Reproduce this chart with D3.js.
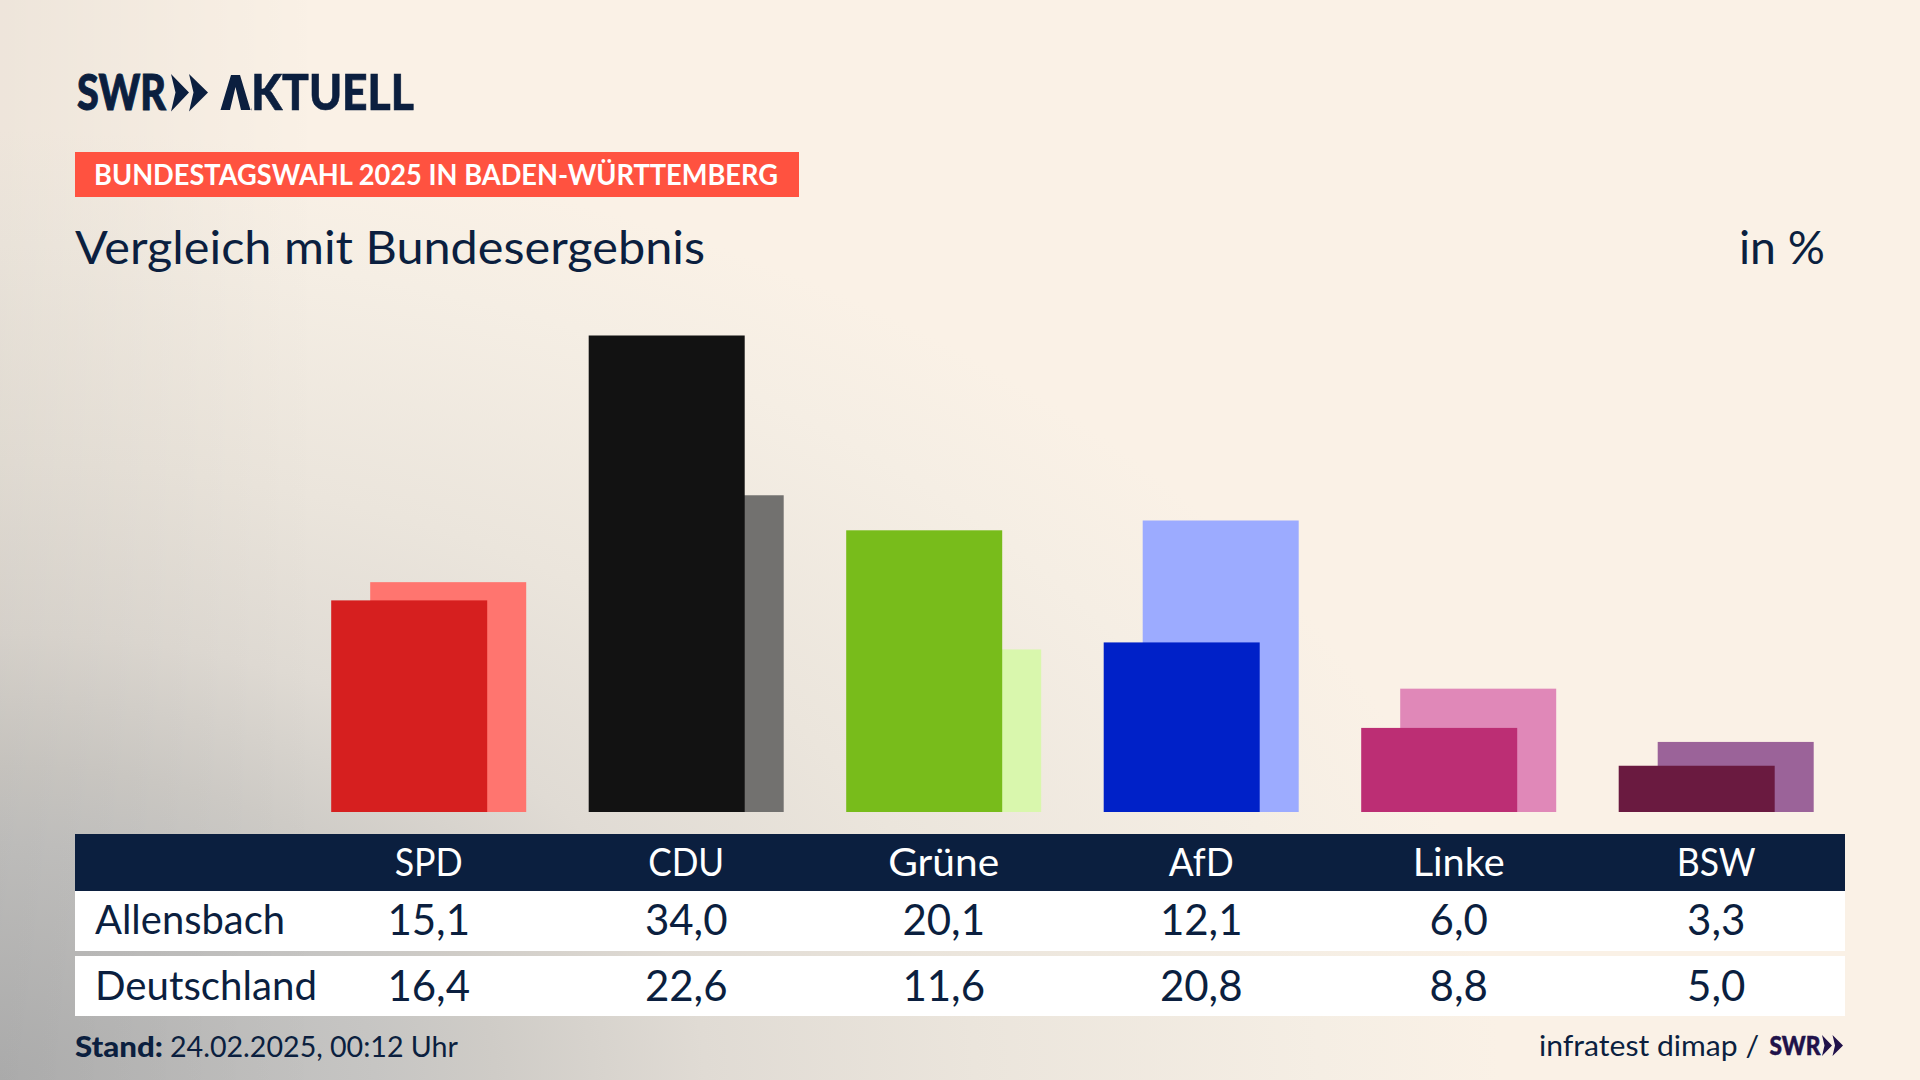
<!DOCTYPE html>
<html lang="de"><head><meta charset="utf-8">
<script src="https://cdn.jsdelivr.net/npm/d3@7"></script>
<style>html,body{margin:0;padding:0;background:#faf1e6}svg{display:block}text{font-family:Lato,"Noto Sans",sans-serif}</style>
</head><body><script>
const parties = ["SPD","CDU","Grüne","AfD","Linke","BSW"];
const regionValues = [15.1,34.0,20.1,12.1,6.0,3.3];
const nationalValues = [16.4,22.6,11.6,20.8,8.8,5.0];
const regionColors = ["#d61f1f","#121212","#78bc1b","#0021c8","#bc2e74","#6a1a40"];
const nationalColors = ["#ff756f","#72716f","#d9f7ad","#9cabff","#e088b8","#9b6399"];
const rowNames = ["Allensbach","Deutschland"];
const navy = "#0b1f3f";
const fmt = v => d3.format(".1f")(v).replace(".",",");

const svg = d3.select("body").append("svg").attr("width",1920).attr("height",1080);
const defs = svg.append("defs");
const grad = defs.append("radialGradient").attr("id","bg").attr("gradientUnits","userSpaceOnUse")
  .attr("cx",0).attr("cy",0).attr("r",1).attr("gradientTransform","translate(0,1080) scale(1500,950)");
[[0,"#b3b3b3"],[.25,"#c6c5c3"],[.33,"#cfccc7"],[.47,"#e0dbd4"],[.65,"#ebe5dc"],[.88,"#f5eee4"],[1,"#faf1e6"]]
  .forEach(([o,c])=>grad.append("stop").attr("offset",o).attr("stop-color",c));
const edge = defs.append("linearGradient").attr("id","edge");
edge.append("stop").attr("offset",0).attr("stop-color","#000").attr("stop-opacity",.05);
edge.append("stop").attr("offset",1).attr("stop-color","#000").attr("stop-opacity",0);
svg.append("rect").attr("width",1920).attr("height",1080).attr("fill","url(#bg)");
svg.append("rect").attr("width",320).attr("height",1080).attr("fill","url(#edge)");

function label(g,str,x,y,size,opts={}){
  const t=g.append("text").attr("x",x).attr("y",y).attr("font-size",size)
   .attr("fill",opts.fill||navy).attr("font-weight",opts.weight||400)
   .attr("text-anchor",opts.anchor||"start").text(str);
  if(opts.width) t.attr("textLength",opts.width).attr("lengthAdjust","spacingAndGlyphs");
  if(opts.stroke) t.attr("stroke",opts.fill||navy).attr("stroke-width",opts.stroke);
  return t;
}

// Logo
const logo=svg.append("g");
label(logo,"SWR",77,110,49,{weight:900,width:89,stroke:1});
logo.append("path").attr("fill",navy).attr("d","M171,74 L189,92.5 L171,111.5 L175.5,92.5 Z");
logo.append("path").attr("fill",navy).attr("d","M189,74 L208,92.5 L189,111.5 L193.5,92.5 Z");
const mask=defs.append("mask").attr("id","noA").attr("maskUnits","userSpaceOnUse").attr("x",0).attr("y",0).attr("width",600).attr("height",200);
mask.append("rect").attr("width",600).attr("height",200).attr("fill","#fff");
mask.append("rect").attr("x",210).attr("y",60).attr("width",41.5).attr("height",60).attr("fill","#000");
label(logo,"AKTUELL",220,110,49,{weight:900,width:194,stroke:.6}).attr("mask","url(#noA)");
logo.append("path").attr("fill",navy).attr("d","M220.5,110 L231,75 L240,75 L250.5,110 L241,110 L235.5,87 L230,110 Z");

// Banner
svg.append("rect").attr("x",75).attr("y",152).attr("width",724).attr("height",45).attr("fill","#ff5240");
label(svg,"BUNDESTAGSWAHL 2025 IN BADEN-WÜRTTEMBERG",94,185,29,{fill:"#fff",weight:700,width:684});
label(svg,"Vergleich mit Bundesergebnis",75,264,46,{width:630});
label(svg,"in %",1739,264,46,{width:86});

// Bars
const x=d3.scalePoint().domain(parties).range([428.7,1716.2]);
const y=d3.scaleLinear().domain([0,34]).range([812,335.5]);
const barW=156, off=39;
const data=parties.map((p,i)=>({p,i,a:regionValues[i],b:nationalValues[i]}));
svg.append("g").selectAll("rect").data(data).join("rect")
  .attr("x",d=>x(d.p)-barW/2+off/2).attr("width",barW)
  .attr("y",d=>y(d.b)).attr("height",d=>y(0)-y(d.b)).attr("fill",d=>nationalColors[d.i]);
svg.append("g").selectAll("rect").data(data).join("rect")
  .attr("x",d=>x(d.p)-barW/2-off/2).attr("width",barW)
  .attr("y",d=>y(d.a)).attr("height",d=>y(0)-y(d.a)).attr("fill",d=>regionColors[d.i]);

// Table
svg.append("rect").attr("x",75).attr("y",834).attr("width",1770).attr("height",57).attr("fill",navy);
svg.append("rect").attr("x",75).attr("y",891).attr("width",1770).attr("height",60).attr("fill","#fff");
svg.append("rect").attr("x",75).attr("y",956).attr("width",1770).attr("height",60).attr("fill","#fff");
const headW=[68,76,111,65,92,79];
parties.forEach((p,i)=>label(svg,p,x(p),876,38,{fill:"#fff",anchor:"middle",width:headW[i]}));
label(svg,rowNames[0],95,934,40,{width:190});
label(svg,rowNames[1],95,1000,40,{width:222});
parties.forEach((p,i)=>{
  label(svg,fmt(regionValues[i]),x(p),935,42,{anchor:"middle"});
  label(svg,fmt(nationalValues[i]),x(p),1001,42,{anchor:"middle"});
});

// Footer
label(svg,"Stand:",75,1057,29,{weight:900,width:88});
label(svg,"24.02.2025, 00:12 Uhr",170,1057,29,{width:288});
label(svg,"infratest dimap /",1539,1056,29,{width:220});
const f="#21124a";
label(svg,"SWR",1769.5,1055,27,{weight:900,fill:f,width:51,stroke:.5});
svg.append("path").attr("fill",f).attr("d","M1822,1035 L1832,1045.5 L1822,1056 L1824.5,1045.5 Z");
svg.append("path").attr("fill",f).attr("d","M1832.5,1035 L1843,1045.5 L1832.5,1056 L1835,1045.5 Z");
</script></body></html>
